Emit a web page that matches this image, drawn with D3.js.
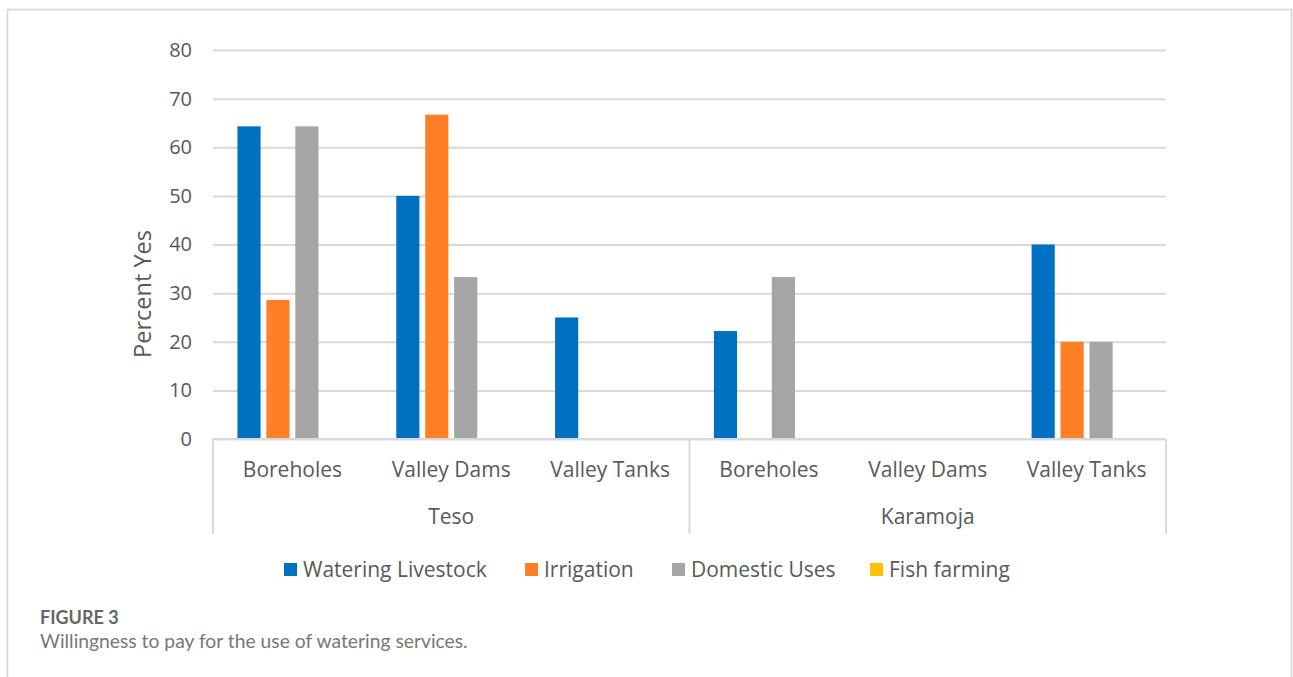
<!DOCTYPE html>
<html><head><meta charset="utf-8">
<script src="https://cdn.jsdelivr.net/npm/d3@7"></script>
<style>body{margin:0;background:#fff;} svg{display:block;}</style>
</head><body>
<svg id="c" width="1293" height="677"></svg>
<script>
const groups = ["Teso", "Karamoja"];
const categories = ["Boreholes", "Valley Dams", "Valley Tanks", "Boreholes", "Valley Dams", "Valley Tanks"];
const categoryGroup = ["Teso", "Teso", "Teso", "Karamoja", "Karamoja", "Karamoja"];
const seriesNames = ["Watering Livestock", "Irrigation", "Domestic Uses", "Fish farming"];
const wateringLivestock = [64.3, 50, 25, 22.2, 0, 40];
const irrigation = [28.6, 66.7, 0, 0, 0, 20];
const domesticUses = [64.3, 33.3, 0, 33.3, 0, 20];
const fishFarming = [0, 0, 0, 0, 0, 0];
const yTicks = [0, 10, 20, 30, 40, 50, 60, 70, 80];
const colors = ["#0070C0", "#FF7F27", "#A5A5A5", "#FFC000"];
const series = [wateringLivestock, irrigation, domesticUses, fishFarming];

(function () {
const svg = d3.select("#c");
const font = "'Open Sans', sans-serif";
const txt = "#595959";

svg.append("rect").attr("x", 7.5).attr("y", 9.5).attr("width", 1284).attr("height", 700)
  .attr("fill", "none").attr("stroke", "#d4d4d4").attr("stroke-width", 1.5);

const pL = 213, pR = 1166, pT = 50, pB = 439;
const y = d3.scaleLinear().domain([0, 80]).range([pB, pT]);
const x0 = d3.scaleBand().domain(d3.range(categories.length)).range([pL, pR]).paddingInner(0).paddingOuter(0);
const inner = 110;
const x1 = d3.scaleBand().domain(d3.range(series.length)).range([0, inner]).paddingInner(0.2).paddingOuter(0);

const gy = d3.axisLeft(y).tickValues(yTicks).tickSize(-(pR - pL)).tickFormat(d => d);
const gAxis = svg.append("g").attr("transform", `translate(${pL},0)`).call(gy);
gAxis.select(".domain").remove();
gAxis.selectAll(".tick line").attr("stroke", "#d9d9d9").attr("stroke-width", 2);
gAxis.selectAll(".tick text").attr("x", -21).attr("fill", txt).style("font-family", font).style("font-size", "20px");

series.forEach((vals, si) => {
  svg.append("g").selectAll("rect").data(vals).join("rect")
    .attr("x", (d, i) => x0(i) + x0.bandwidth() / 2 - inner / 2 + x1(si))
    .attr("y", d => y(d))
    .attr("width", x1.bandwidth())
    .attr("height", d => pB - y(d))
    .attr("fill", colors[si]);
});

const axG = svg.append("g");
axG.append("line").attr("x1", pL).attr("x2", pR).attr("y1", pB).attr("y2", pB)
  .attr("stroke", "#d9d9d9").attr("stroke-width", 2);
const nPer = 3;
[0, 3, 6].forEach(i => {
  const xx = i < 6 ? x0(i) : pR;
  axG.append("line").attr("x1", xx).attr("x2", xx).attr("y1", pB).attr("y2", 534)
    .attr("stroke", "#d9d9d9").attr("stroke-width", 2);
});
axG.selectAll("text.cat").data(categories).join("text").attr("class", "cat")
  .attr("x", (d, i) => x0(i) + x0.bandwidth() / 2).attr("y", 477)
  .attr("text-anchor", "middle").attr("fill", txt).style("font-family", font).style("font-size", "21px")
  .text(d => d);
axG.selectAll("text.grp").data(groups).join("text").attr("class", "grp")
  .attr("x", (d, i) => (x0(i * nPer) + (i * nPer + nPer < 6 ? x0(i * nPer + nPer) : pR)) / 2).attr("y", 524)
  .attr("text-anchor", "middle").attr("fill", txt).style("font-family", font).style("font-size", "21px")
  .text(d => d);

svg.append("text").attr("transform", `translate(151,294) rotate(-90)`)
  .attr("text-anchor", "middle").attr("fill", txt).style("font-family", font).style("font-size", "23.5px")
  .text("Percent Yes");

const legX = [284, 525, 672, 870];
const leg = svg.append("g");
seriesNames.forEach((n, i) => {
  leg.append("rect").attr("x", legX[i]).attr("y", 563).attr("width", 13).attr("height", 13).attr("fill", colors[i]);
  leg.append("text").attr("x", legX[i] + 19).attr("y", 577).attr("fill", txt)
    .style("font-family", font).style("font-size", "21px").text(n);
});

svg.append("text").attr("x", 40).attr("y", 624).attr("fill", "#666").style("font-family", "Lato, sans-serif")
  .style("font-size", "18px").style("font-weight", "bold").text("FIGURE 3");
svg.append("text").attr("x", 40).attr("y", 648).attr("fill", "#777").style("font-family", "Lato, sans-serif")
  .style("font-size", "19.3px").text("Willingness to pay for the use of watering services.");
})();
</script>
</body></html>
